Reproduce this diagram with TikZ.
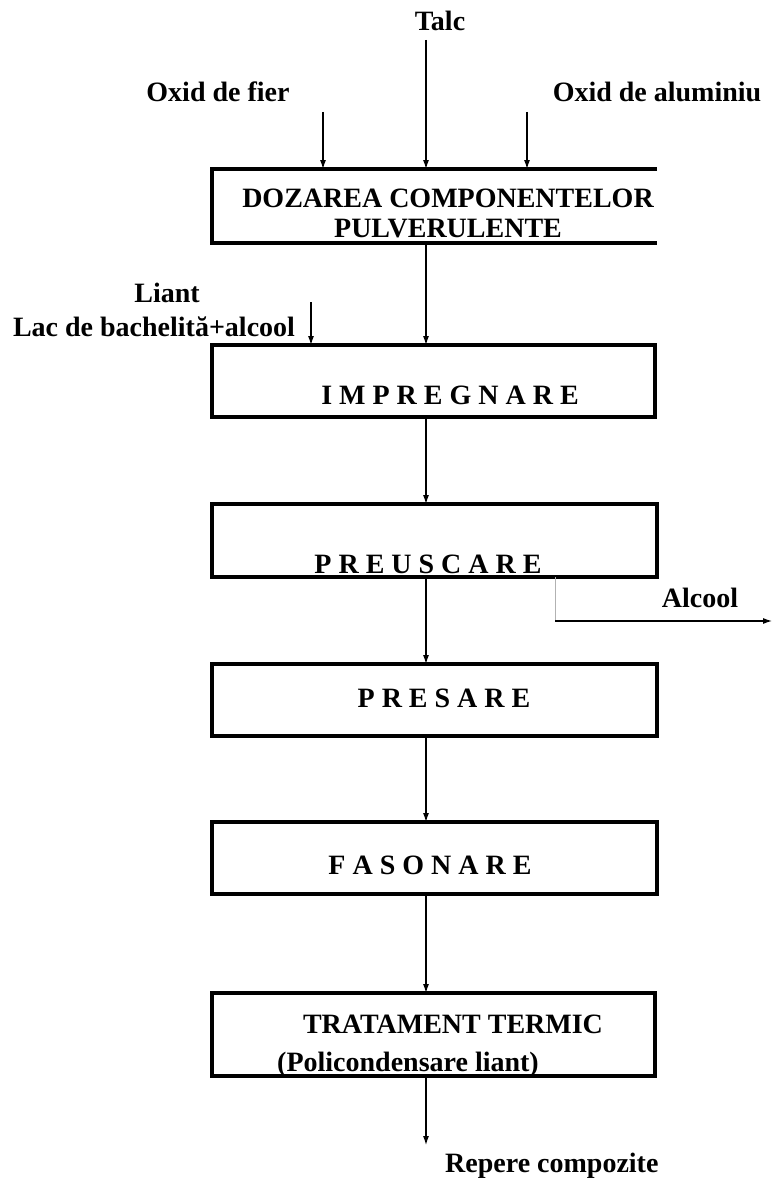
\documentclass[tikz,border=0pt]{standalone}
\usepackage{fontspec}
\setmainfont{Liberation Serif}
\usetikzlibrary{arrows.meta}
\begin{document}
\begin{tikzpicture}[x=1pt,y=-1pt,
  box/.style={draw, line width=3.2pt, outer sep=0pt, inner sep=0pt},
  lbl/.style={font=\fontsize{28}{32}\selectfont\bfseries, inner sep=0pt, anchor=base},
  thin/.style={line width=1pt},
  arr/.style={line width=1.1pt, -{Latex[length=9pt,width=6pt]}}]
\useasboundingbox (0,0) rectangle (772,1180);
% column of the main flow
\coordinate (ax) at (426,0);
% boxes
\node[outer sep=0pt, inner sep=0pt, minimum width=445pt, minimum height=74pt] (b1) at (434.5,206) {};
\draw[line width=3.2pt] (b1.north east) -- (b1.north west) -- (b1.south west) -- (b1.south east);
\node[box, minimum width=443pt, minimum height=72pt] (b2) at (433.5,381) {};
\node[box, minimum width=445pt, minimum height=73pt] (b3) at (434.5,540.5) {};
\node[box, minimum width=445pt, minimum height=72pt] (b4) at (434.5,700) {};
\node[box, minimum width=445pt, minimum height=72pt] (b5) at (434.5,858) {};
\node[box, minimum width=443pt, minimum height=83pt] (b6) at (433.5,1034.5) {};
% box texts
\node[lbl] (t1a) at (448,207) {DOZAREA COMPONENTELOR};
\node[lbl] (t1b) at (448,237) {PULVERULENTE};
\node[lbl] (t2) at (450,404) {I M P R E G N A R E};
\node[lbl] (t3) at (428,573) {P R E U S C A R E};
\node[lbl] (t4) at (444,707) {P R E S A R E};
\node[lbl] (t5) at (430,874) {F A S O N A R E};
\node[lbl] (t6a) at (453,1033) {TRATAMENT TERMIC};
\node[lbl] (t6b) at (408,1071) {(Policondensare liant)};
% input labels
\node[lbl] (talc) at (440,31) {Talc};
\node[lbl] (fier) at (218,102) {Oxid de fier};
\node[lbl] (alu) at (657,102) {Oxid de aluminiu};
\node[lbl] (liant) at (167,302) {Liant};
\node[lbl] (lac) at (154,336) {Lac de bachelit\u{a}+alcool};
\node[lbl] (alcool) at (700,607) {Alcool};
\node[lbl, anchor=base west] (rep) at (445,1172) {Repere compozite};
% free ends
\coordinate (talcS) at (426,40);
\coordinate (fierS) at (323,112);
\coordinate (aluS) at (527,112);
\coordinate (liantS) at (311,302);
\coordinate (alcC) at (555,621);
\coordinate (alcE) at (772,621);
\coordinate (repE) at (426,1145);
% connectors
\draw[arr] (talcS) -- (talcS |- b1.north);
\draw[arr] (fierS) -- (fierS |- b1.north);
\draw[arr] (aluS) -- (aluS |- b1.north);
\draw[arr] (liantS) -- (liantS |- b2.north);
\draw[arr] (b1.south -| ax) -- (b2.north -| ax);
\draw[arr] (b2.south -| ax) -- (b3.north -| ax);
\draw[arr] (b3.south -| ax) -- (b4.north -| ax);
\draw[arr] (b4.south -| ax) -- (b5.north -| ax);
\draw[arr] (b5.south -| ax) -- (b6.north -| ax);
\draw[arr] (b6.south -| ax) -- (repE);
\draw[thin, gray!60] (b3.south -| alcC) -- (alcC);
\draw[arr] (alcC) -- (alcE);
\end{tikzpicture}
\end{document}
